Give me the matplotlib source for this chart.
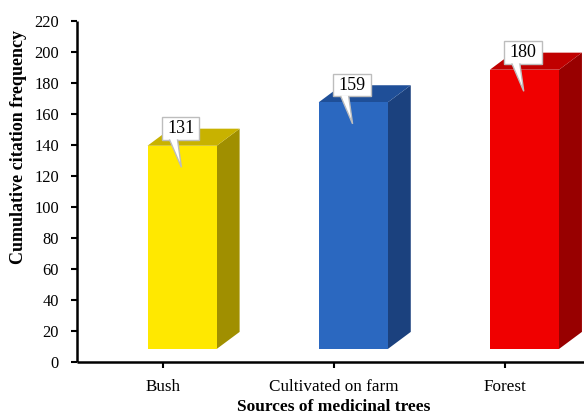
import matplotlib
matplotlib.use("Agg")
import matplotlib.pyplot as plt
from matplotlib.patches import Polygon, Rectangle
import numpy as np

sources = ["Bush", "Cultivated on farm", "Forest"]
citations = [131, 159, 180]
front_colors = ["#FFE800", "#2B68C0", "#F00000"]
top_colors = ["#C8B200", "#1F4F98", "#C00000"]
side_colors = ["#A08F00", "#1B417E", "#980000"]

# geometry of the fake 3D bars (data units)
BASE = 8.4
LEFT, RIGHT = -0.088, 0.316
DX, DY = 0.134, 11.0

plt.rcParams["font.family"] = ["Liberation Serif", "DejaVu Serif"]

fig = plt.figure(figsize=(5.84, 4.15), dpi=100)
ax = fig.add_axes([77 / 584, 53 / 415, 513.5 / 584, 341.3 / 415])

x = np.arange(len(sources))
for xi, val, fc, tc, sc in zip(x, citations, front_colors, top_colors, side_colors):
    x0, x1 = xi + LEFT, xi + RIGHT
    top = val + BASE
    ax.add_patch(Polygon([(x1, BASE), (x1 + DX, BASE + DY), (x1 + DX, top + DY), (x1, top)],
                         closed=True, fc=sc, ec="none", zorder=2))
    ax.add_patch(Polygon([(x0, top), (x1, top), (x1 + DX, top + DY), (x0 + DX, top + DY)],
                         closed=True, fc=tc, ec="none", zorder=2))
    ax.add_patch(Rectangle((x0, BASE), x1 - x0, val, fc=fc, ec="none", zorder=3))

    # callout label
    bw, bh = 0.22, 14.6
    bx, by = xi + 0.105, val + 19.5
    tip = (xi + 0.11, val - 5.5)
    ax.add_patch(Polygon([(bx - 0.065, by - bh / 2 + 0.3), tip, (bx - 0.018, by - bh / 2 + 0.3)],
                         closed=False, fc="white", ec="#BDBDBD", lw=1.0, zorder=5))
    ax.add_patch(Rectangle((bx - bw / 2, by - bh / 2), bw, bh, fc="white", ec="#BDBDBD",
                           lw=1.0, zorder=4))
    ax.add_patch(Polygon([(bx - 0.062, by - bh / 2 + 0.6), (bx - 0.021, by - bh / 2 + 0.6),
                          (bx - 0.04, by - bh / 2 - 1.0)],
                         closed=True, fc="white", ec="none", zorder=6))
    ax.text(bx, by, str(val), ha="center", va="center", fontsize=13, zorder=7)

ax.set_xlim(-0.5, 2.5)
ax.set_ylim(0, 220)
ax.set_yticks(np.arange(0, 221, 20))
ax.set_xticks(x)
ax.set_xticklabels(sources)

for side in ["top", "right"]:
    ax.spines[side].set_visible(False)
for side in ["left", "bottom"]:
    ax.spines[side].set_linewidth(1.8)
    ax.spines[side].set_capstyle("butt")
ax.tick_params(axis="y", direction="out", length=4, width=1.5, labelsize=11.8, pad=9)
ax.tick_params(axis="x", direction="out", length=4, width=1.5, labelsize=12.3, pad=8)

ax.set_ylabel("Cumulative citation frequency", fontsize=13, fontweight="bold")
ax.yaxis.set_label_coords(-0.098, 0.631)
ax.set_xlabel("Sources of medicinal trees", fontsize=12.5, fontweight="bold")
ax.xaxis.set_label_coords(0.5, -0.108)

fig.savefig("out.png", dpi=100)
